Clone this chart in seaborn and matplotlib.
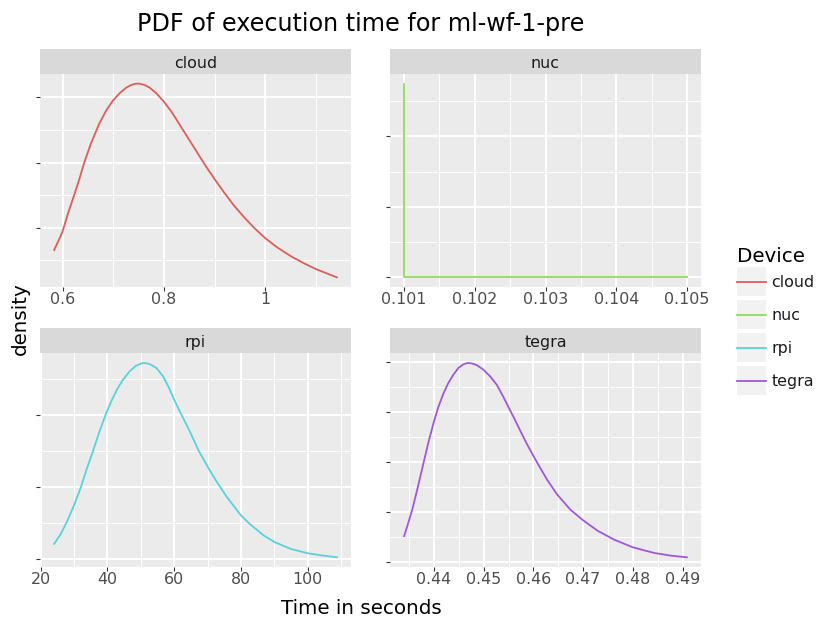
import numpy as np
import pandas as pd
import matplotlib
matplotlib.use("Agg")
import matplotlib.pyplot as plt
import seaborn as sns
from matplotlib.ticker import MultipleLocator, FuncFormatter, NullFormatter
from matplotlib.patches import Rectangle
from matplotlib.lines import Line2D

# ---------------- data ----------------
devices = ["cloud", "nuc", "rpi", "tegra"]
colors = ["#DB5F57", "#91DB57", "#57D3DB", "#A157DB"]

cloud_time = [0.5835, 0.5934, 0.6000, 0.6099, 0.6198, 0.6331, 0.6430, 0.6562, 0.6728,
              0.6860, 0.6992, 0.7124, 0.7257, 0.7356, 0.7442, 0.7521, 0.7620, 0.7720,
              0.7852, 0.7984, 0.8149, 0.8315, 0.8480, 0.8646, 0.8811, 0.8989, 0.9175,
              0.9373, 0.9571, 0.9770, 1.0001, 1.0233, 1.0497, 1.0762, 1.0993, 1.1225,
              1.1410]
cloud_density = [0.658, 0.822, 0.939, 1.195, 1.425, 1.742, 2.003, 2.294, 2.601,
                 2.795, 2.948, 3.061, 3.148, 3.189, 3.209, 3.209, 3.189, 3.148,
                 3.061, 2.948, 2.780, 2.575, 2.371, 2.166, 1.962, 1.757, 1.553,
                 1.348, 1.169, 1.005, 0.837, 0.699, 0.566, 0.454, 0.367, 0.295,
                 0.239]

nuc_time = [0.101, 0.101, 0.105]
nuc_density = [2.75, 0.0, 0.0]

rpi_time = [24.02, 26.03, 28.04, 30.05, 32.06, 33.77, 35.58, 37.59, 39.40, 41.11,
            42.81, 44.62, 46.63, 48.44, 50.15, 51.16, 52.66, 54.67, 56.68, 58.39,
            60.00, 62.21, 64.72, 67.24, 70.05, 72.76, 75.78, 80.00, 82.81, 86.83,
            90.15, 94.87, 100.0, 103.92, 108.74]
rpi_density = [0.00209, 0.00349, 0.00535, 0.00753, 0.01000, 0.01247, 0.01488, 0.01767,
               0.02000, 0.02186, 0.02349, 0.02488, 0.02605, 0.02679, 0.02716, 0.02721,
               0.02707, 0.02651, 0.02535, 0.02381, 0.02209, 0.02000, 0.01767, 0.01512,
               0.01279, 0.01070, 0.00860, 0.00605, 0.00479, 0.00326, 0.00233, 0.00140,
               0.00079, 0.00051, 0.00023]

tegra_time = [0.43401, 0.43489, 0.43569, 0.43677, 0.43785, 0.43892, 0.44000, 0.44087,
              0.44188, 0.44289, 0.44390, 0.44491, 0.44592, 0.44673, 0.44760, 0.44861,
              0.44996, 0.45131, 0.45265, 0.45400, 0.45501, 0.45615, 0.45736, 0.45871,
              0.45992, 0.46106, 0.46275, 0.46476, 0.46746, 0.46988, 0.47284, 0.47620,
              0.47997, 0.48428, 0.48764, 0.49087]
tegra_density = [5.23, 8.04, 10.72, 15.08, 19.63, 24.12, 28.14, 31.02,
                 33.70, 35.85, 37.52, 38.86, 39.60, 39.87, 39.80, 39.46,
                 38.53, 37.19, 35.51, 33.03, 31.02, 28.81, 26.33, 23.65,
                 21.44, 19.43, 16.55, 13.60, 10.52, 8.51, 6.37, 4.56,
                 3.02, 1.88, 1.34, 1.01]

title = "PDF of execution time for ml-wf-1-pre"
x_title = "Time in seconds"
y_title = "density"
legend_title = "Device"

series = {
    "cloud": (cloud_time, cloud_density),
    "nuc": (nuc_time, nuc_density),
    "rpi": (rpi_time, rpi_density),
    "tegra": (tegra_time, tegra_density),
}
frames = []
for d in devices:
    t, y = series[d]
    frames.append(pd.DataFrame({"Time": t, "density": y, "Device": d}))
df = pd.concat(frames, ignore_index=True)

x_step = {"cloud": 0.2, "nuc": 0.001, "rpi": 20, "tegra": 0.01}
y_step = {"cloud": 1, "nuc": 1, "rpi": 0.01, "tegra": 10}

# ---------------- layout ----------------
W, H = 818, 619
fig = plt.figure(figsize=(W / 100, H / 100), dpi=100)
fig.patch.set_facecolor("white")


def fbox(l, t, r, b):
    return [l / W, 1 - b / H, (r - l) / W, (b - t) / H]


panels = {
    "cloud": (40, 49.3, 74, 351, 287),
    "nuc": (390, 49.3, 74, 701, 287),
    "rpi": (40, 328, 353.3, 351, 567),
    "tegra": (390, 328, 353.3, 701, 567),
}

for d, c in zip(devices, colors):
    l, st, t, r, b = panels[d]
    ax = fig.add_axes(fbox(l, t, r, b))
    ax.set_facecolor("#EBEBEB")
    sns.lineplot(data=df[df["Device"] == d], x="Time", y="density", color=c,
                 linewidth=1.3, sort=False, estimator=None, ax=ax, legend=False)
    ax.xaxis.set_major_locator(MultipleLocator(x_step[d]))
    ax.xaxis.set_minor_locator(MultipleLocator(x_step[d] / 2))
    ax.yaxis.set_major_locator(MultipleLocator(y_step[d]))
    ax.yaxis.set_minor_locator(MultipleLocator(y_step[d] / 2))
    ax.xaxis.set_major_formatter(FuncFormatter(lambda v, p: f"{v:g}"))
    ax.yaxis.set_major_formatter(NullFormatter())
    ax.tick_params(which="major", length=3, width=0.8, color="#333333",
                   labelcolor="#4D4D4D", labelsize=11.4, pad=0.5)
    ax.tick_params(which="minor", length=0)
    ax.grid(which="major", color="white", linewidth=1.4)
    ax.grid(which="minor", color="white", linewidth=0.7)
    ax.set_axisbelow(True)
    for s in ax.spines.values():
        s.set_visible(False)
    ax.set_xlabel("")
    ax.set_ylabel("")

    sax = fig.add_axes(fbox(l, st, r, t))
    sax.set_facecolor("#D9D9D9")
    sax.set_xticks([])
    sax.set_yticks([])
    for s in sax.spines.values():
        s.set_visible(False)
    sax.text(0.5, 0.5, d, ha="center", va="center_baseline", fontsize=11.4,
             color="#1A1A1A", transform=sax.transAxes)

# titles
fig.text(360.5 / W, 1 - 31 / H, title, ha="center", va="baseline", fontsize=17.2)
fig.text(361 / W, 1 - 614.3 / H, x_title, ha="center", va="baseline", fontsize=14.3)
fig.text(20.5 / W, 1 - 319 / H, y_title, rotation=90, ha="center", va="center",
         fontsize=14.3)

# legend
fig.text(737 / W, 1 - 261.5 / H, legend_title, ha="left", va="baseline", fontsize=14.3)
for i, (d, c) in enumerate(zip(devices, colors)):
    cy = 281.5 + 33 * i
    fig.add_artist(Rectangle((737 / W, 1 - (cy + 14.5) / H), 29 / W, 29 / H,
                             transform=fig.transFigure, facecolor="#F2F2F2",
                             edgecolor="none"))
    fig.add_artist(Line2D([737 / W, 766 / W], [1 - cy / H, 1 - cy / H],
                          transform=fig.transFigure, color=c, linewidth=1.3))
    fig.text(771.5 / W, 1 - (cy + 5.6) / H, d, ha="left", va="baseline",
             fontsize=11.4, color="#1A1A1A")

fig.savefig("out.png", dpi=100)
